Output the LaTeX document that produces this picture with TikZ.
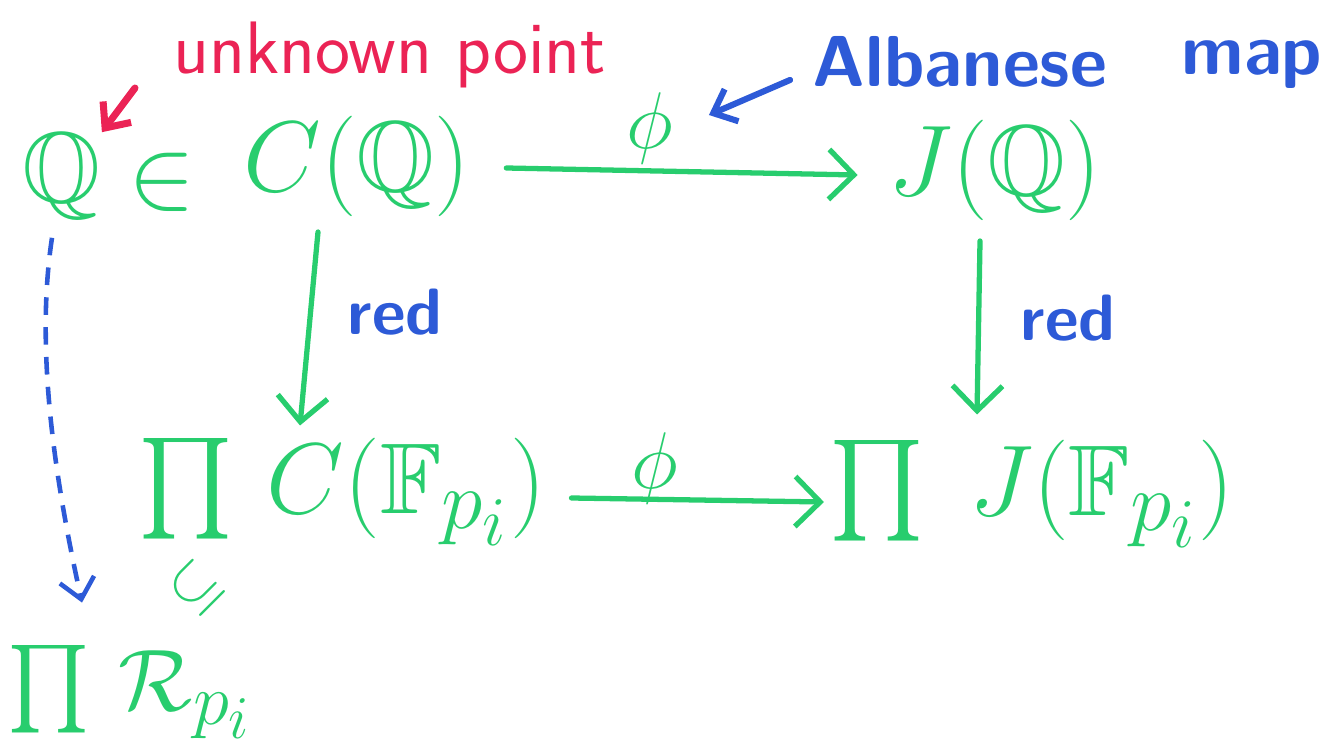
\documentclass[tikz,border=0pt]{standalone}
\usepackage{amssymb}
\usetikzlibrary{arrows.meta,calc}
\definecolor{mygreen}{RGB}{40,205,110}
\definecolor{myblue}{RGB}{45,90,215}
\definecolor{myred}{RGB}{235,35,85}
\begin{document}
\begin{tikzpicture}[x=0.02cm,y=-0.02cm,
  obj/.style={text=mygreen, font=\Huge, scale=2.3, inner sep=0pt},
  bluelbl/.style={text=myblue, font=\Huge\sffamily\bfseries, scale=1.5, inner sep=0pt},
  redlbl/.style={text=myred, font=\Huge\sffamily, scale=1.7, inner sep=0pt},
  garr/.style={draw=mygreen, line width=3pt, line cap=round, -{Straight Barb[length=5mm,width=10mm]}},
  barr/.style={draw=myblue, line width=3.5pt, line cap=round, -{Straight Barb[length=4mm,width=7mm]}},
  rarr/.style={draw=myred, line width=4pt, line cap=round, -{Straight Barb[length=4mm,width=7mm]}},
  darr/.style={draw=myblue, line width=2.6pt, dash pattern=on 10pt off 7pt, -{Straight Barb[length=4mm,width=7mm]}}]
\useasboundingbox (0,0) rectangle (1324,753);
% nodes
\node[obj] (Q) at (62,176) {$\mathbb{Q}$};
\node[obj] (in) at (162,182) {$\in$};
\node[obj] (CQ) at (357,166) {$C(\mathbb{Q})$};
\node[obj] (JQ) at (995,170) {$J(\mathbb{Q})$};
\node[obj] (PC) at (342,492) {$\prod\,C(\mathbb{F}_{p_i})$};
\node[obj] (PJ) at (1032,494) {$\prod\;J(\mathbb{F}_{p_i})$};
\node[obj, scale=0.87] (PR) at (130,692) {$\prod\,\mathcal{R}_{p_i}$};
\node[obj, rotate=45, scale=0.6] (sub) at (196,588) {$\subseteq$};
% labels
\node[obj, scale=0.8] (phi1) at (650,128) {$\phi$};
\node[obj, scale=0.8] (phi2) at (655,468) {$\phi$};
\node[bluelbl] (red1) at (395,312) {red};
\node[bluelbl] (red2) at (1068,318) {red};
\node[redlbl] (unk) at (390,55) {unknown point};
\node[bluelbl, scale=1.1] (alb) at (960,62) {Albanese};
\node[bluelbl, scale=1.1] (map) at (1252,64) {map};
\coordinate (unkend) at (135,88);
\coordinate (albend) at (790,80);
% arrows
\draw[garr] ($(CQ.east)+(35,2)$) -- ($(JQ.west)+(-30,5)$);
\draw[garr] ($(CQ.south)+(-39,15)$) -- ($(PC.north)+(-42,-12)$);
\draw[garr] ($(JQ.south)+(-15,20)$) -- ($(PJ.north)+(-55,-25)$);
\draw[garr] ($(PC.east)+(25,6)$) -- ($(PJ.west)+(-5,8)$);
\draw[rarr] (unkend) -- (Q.north east);
\draw[barr] (albend) -- ($(phi1.east)+(35,-13)$);
\draw[darr] ($(Q.south)+(-10,18)$) .. controls (35,350) and (55,480) .. ($(PR.north)+(-48,-42)$);
\end{tikzpicture}
\end{document}
